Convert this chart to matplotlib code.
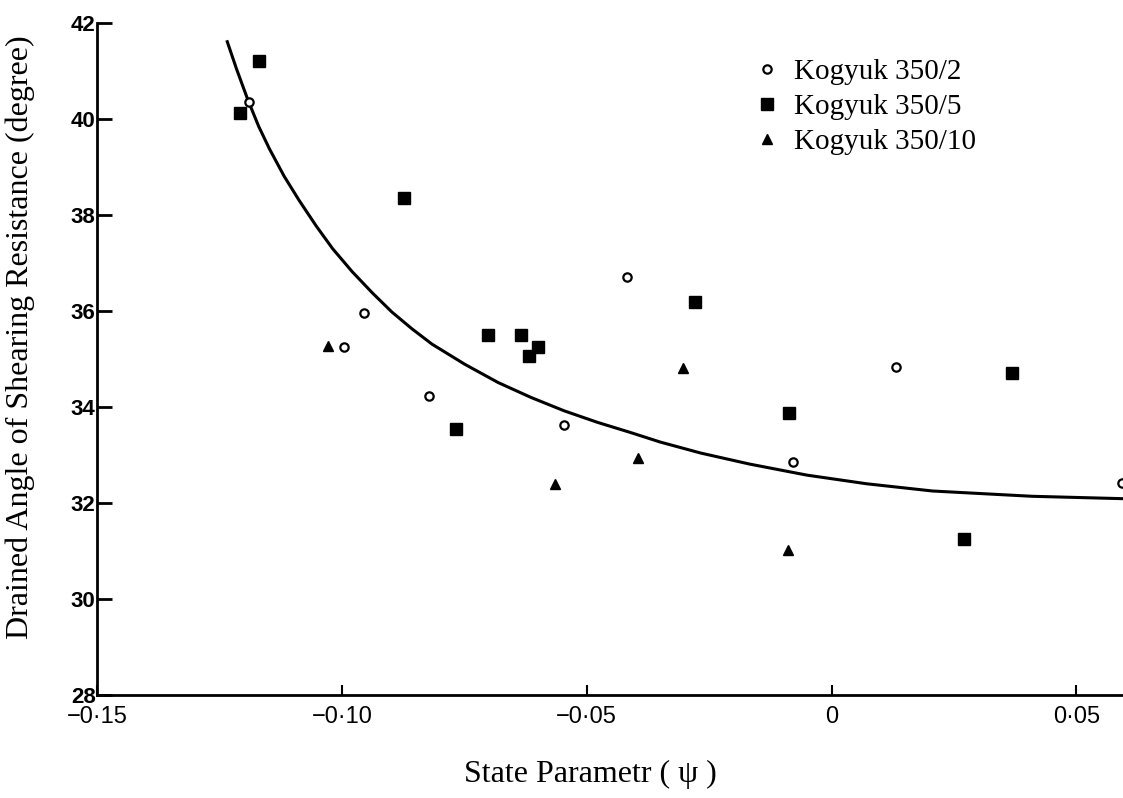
import matplotlib
matplotlib.use("Agg")
import matplotlib.pyplot as plt

# Kogyuk 350/2 (open circles)
k2_x = [-0.119, -0.0954, -0.0995, -0.0823, -0.0547, -0.0417, -0.0078, 0.0131, 0.0592]
k2_y = [40.36, 35.95, 35.26, 34.22, 33.62, 36.70, 32.85, 34.83, 32.42]

# Kogyuk 350/5 (filled squares)
k5_x = [-0.1208, -0.1169, -0.0873, -0.0701, -0.0634, -0.0599, -0.0618, -0.0766,
        -0.0279, -0.0086, 0.0368, 0.0271]
k5_y = [40.13, 41.21, 38.36, 35.51, 35.51, 35.24, 35.06, 33.54,
        36.18, 33.87, 34.70, 31.25]

# Kogyuk 350/10 (filled triangles)
k10_x = [-0.1029, -0.0565, -0.0395, -0.0303, -0.0090]
k10_y = [35.28, 32.40, 32.94, 34.81, 31.02]

# trend curve
curve_x = [-0.1234, -0.1215, -0.1192, -0.1170, -0.1148, -0.1118, -0.1087, -0.1053,
           -0.1019, -0.0979, -0.0938, -0.0898, -0.0857, -0.0816, -0.0749, -0.0681,
           -0.0614, -0.0546, -0.0478, -0.0411, -0.0350, -0.0267, -0.0167, -0.0050,
           0.0072, 0.0206, 0.0409, 0.0595]
curve_y = [41.61, 41.04, 40.40, 39.85, 39.38, 38.81, 38.30, 37.78,
           37.30, 36.82, 36.38, 35.98, 35.63, 35.31, 34.89, 34.51,
           34.20, 33.92, 33.68, 33.47, 33.27, 33.04, 32.81, 32.58,
           32.40, 32.25, 32.14, 32.09]

xticks = [-0.15, -0.10, -0.05, 0, 0.05]
xtick_labels = ["\u22120\u00b715", "\u22120\u00b710", "\u22120\u00b705", "0", "0\u00b705"]
yticks = [28, 30, 32, 34, 36, 38, 40, 42]

fig = plt.figure(figsize=(11.23, 7.98), dpi=100)
ax = fig.add_axes([97 / 1123, 1 - 695 / 798, 1 - 97 / 1123, (695 - 23) / 798])

ax.plot(curve_x, curve_y, color="black", lw=2.2, clip_on=False, zorder=2,
        solid_joinstyle="round")
ax.plot(k2_x, k2_y, "o", ms=6, mfc="white", mec="black", mew=1.6,
        ls="none", label="Kogyuk 350/2", zorder=3)
ax.plot(k5_x, k5_y, "s", ms=8, color="black", ls="none",
        label="Kogyuk 350/5", zorder=3)
ax.plot(k10_x, k10_y, "^", ms=7.5, color="black", ls="none",
        label="Kogyuk 350/10", zorder=3)

ax.set_xlim(-0.15, 0.0595)
ax.set_ylim(28, 42)

for s in ["top", "right"]:
    ax.spines[s].set_visible(False)
for s in ["left", "bottom"]:
    ax.spines[s].set_linewidth(2)

ax.set_xticks(xticks)
ax.set_xticklabels(xtick_labels, family=["Liberation Sans Narrow", "Liberation Sans"],
                   fontsize=17)
ax.set_yticks(yticks)
ax.set_yticklabels([str(v) for v in yticks], family="Liberation Sans",
                   fontweight="bold", fontsize=16)
ax.tick_params(axis="y", direction="in", length=11, width=2, pad=1)
ax.tick_params(axis="x", direction="in", length=7, width=1.5, pad=8)

ax.set_xlabel("State Parametr ( \u03c8 )", family="Liberation Serif", fontsize=23)
ax.xaxis.set_label_coords(0.481, -0.097)
ax.set_ylabel("Drained Angle of Shearing Resistance (degree)", family="Liberation Serif",
              fontsize=23)
ax.yaxis.set_label_coords(-0.06, 0.533)

ax.legend(loc="upper left", bbox_to_anchor=(741 / 1123, 1 - 44 / 798),
          bbox_transform=fig.transFigure, frameon=False, borderpad=0,
          handlelength=0.8, handletextpad=0.5, labelspacing=0.3,
          prop={"family": "Liberation Serif", "size": 21})

fig.savefig("out.png", dpi=100)
